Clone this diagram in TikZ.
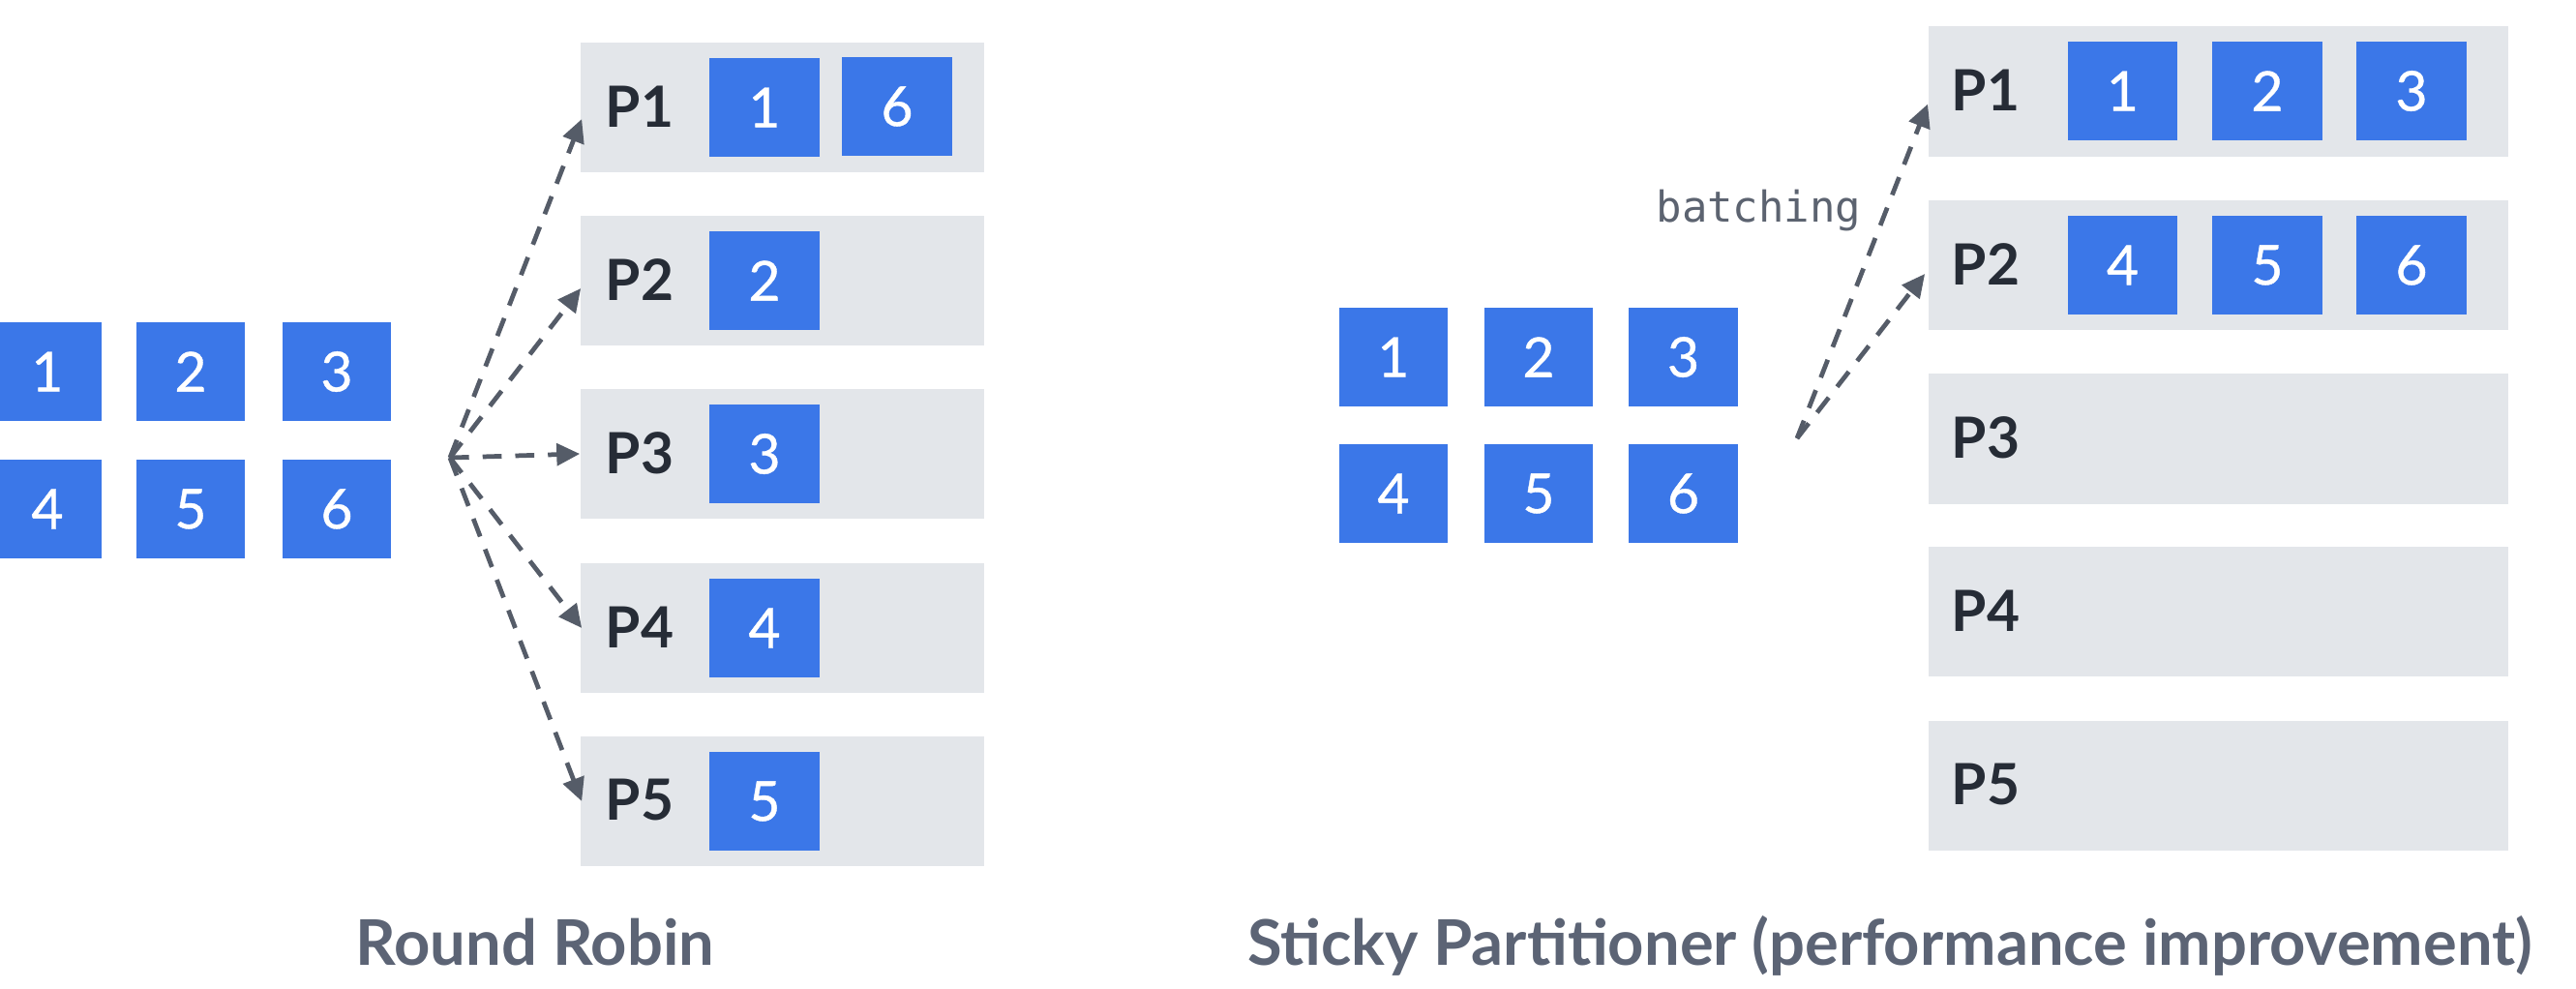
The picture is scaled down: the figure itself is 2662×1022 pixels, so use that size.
\documentclass[tikz,border=0pt]{standalone}
\usepackage{fontspec}
\setmainfont{Lato}
\newfontfamily\monofont{DejaVu Sans Mono}
\newfontfamily\digitfont[FakeBold=0.7]{Lato}
\usetikzlibrary{arrows.meta,calc}
\definecolor{msgblue}{HTML}{3B77E8}
\definecolor{partgray}{HTML}{E3E6EA}
\definecolor{arrowgray}{HTML}{555C68}
\definecolor{labeldark}{HTML}{262C36}
\definecolor{titlegray}{HTML}{5C6475}
\definecolor{monogray}{HTML}{5C6370}
\tikzset{
  msgbox/.style={fill=msgblue, text=white, inner sep=0pt, minimum width=1.12cm, minimum height=1.01cm,
    font=\fontsize{16.2pt}{18pt}\digitfont},
  partL/.style={fill=partgray, inner sep=0pt, minimum width=4.17cm, minimum height=1.34cm},
  partR/.style={fill=partgray, inner sep=0pt, minimum width=5.99cm, minimum height=1.34cm},
  plabel/.style={inner sep=0pt, anchor=west, text=labeldark, font=\fontsize{16.7pt}{18pt}\selectfont\bfseries},
  flow/.style={draw=arrowgray, line width=1.35pt, dash pattern=on 5.6pt off 4pt,
    -{Triangle[length=6.8pt,width=6.4pt]}},
  caption/.style={inner sep=0pt, anchor=base, text=titlegray, font=\fontsize{18.5pt}{20pt}\selectfont\bfseries}
}
\begin{document}
\begin{tikzpicture}[x=0.01cm,y=-0.01cm]
\useasboundingbox (0,0) rectangle (2662,1022);

% ---------- Round Robin (left) ----------
\node[msgbox] (a1) at (49,384) {1};
\node[msgbox] (a2) at (197,384) {2};
\node[msgbox] (a3) at (348,384) {3};
\node[msgbox] (a4) at (49,526) {4};
\node[msgbox] (a5) at (197,526) {5};
\node[msgbox] (a6) at (348,526) {6};

\node[partL] (lp1) at (808.5,111) {};
\node[partL] (lp2) at (808.5,290) {};
\node[partL] (lp3) at (808.5,469) {};
\node[partL] (lp4) at (808.5,649) {};
\node[partL] (lp5) at (808.5,828) {};

\node[plabel] (lp1t) at (625,110) {P1};
\node[plabel] (lp2t) at (625,289) {P2};
\node[plabel] (lp3t) at (625,468) {P3};
\node[plabel] (lp4t) at (625,648) {P4};
\node[plabel] (lp5t) at (625,827) {P5};

\node[msgbox, minimum width=1.13cm, minimum height=1.02cm] (l11) at (790,111) {1};
\node[msgbox, minimum width=1.13cm, minimum height=1.02cm] (l12) at (927,110) {6};
\node[msgbox, minimum width=1.13cm, minimum height=1.02cm] (l21) at (790,290) {2};
\node[msgbox, minimum width=1.13cm, minimum height=1.02cm] (l31) at (790,469) {3};
\node[msgbox, minimum width=1.13cm, minimum height=1.02cm] (l41) at (790,649) {4};
\node[msgbox, minimum width=1.13cm, minimum height=1.02cm] (l51) at (790,828) {5};

\coordinate (lo) at (465,473);
\draw[flow] (lo) -- ($(lp1.west)+(2,12)$);
\draw[flow] (lo) -- ($(lp2.west)+(1,8)$);
\draw[flow] (lo) -- (lp3.west);
\draw[flow] (lo) -- ($(lp4.west)+(2,0)$);
\draw[flow] (lo) -- ($(lp5.west)+(2,0)$);

\node[caption] (rr) at (553,998) {Round Robin};

% ---------- Sticky Partitioner (right) ----------
\node[msgbox] (b1) at (1440,369) {1};
\node[msgbox] (b2) at (1590,369) {2};
\node[msgbox] (b3) at (1739.5,369) {3};
\node[msgbox] (b4) at (1440,510) {4};
\node[msgbox] (b5) at (1590,510) {5};
\node[msgbox] (b6) at (1739.5,510) {6};

\node[partR] (rp1) at (2292.5,94.5) {};
\node[partR] (rp2) at (2292.5,274) {};
\node[partR] (rp3) at (2292.5,453.5) {};
\node[partR] (rp4) at (2292.5,632) {};
\node[partR] (rp5) at (2292.5,812) {};

\node[plabel] (rp1t) at (2016,93) {P1};
\node[plabel] (rp2t) at (2016,273) {P2};
\node[plabel] (rp3t) at (2016,452) {P3};
\node[plabel] (rp4t) at (2016,631) {P4};
\node[plabel] (rp5t) at (2016,811) {P5};

\node[msgbox, minimum width=1.13cm, minimum height=1.02cm] (r11) at (2193.5,94) {1};
\node[msgbox, minimum width=1.13cm, minimum height=1.02cm] (r12) at (2343,94) {2};
\node[msgbox, minimum width=1.13cm, minimum height=1.02cm] (r13) at (2492,94) {3};
\node[msgbox, minimum width=1.13cm, minimum height=1.02cm] (r21) at (2193.5,274) {4};
\node[msgbox, minimum width=1.13cm, minimum height=1.02cm] (r22) at (2343,274) {5};
\node[msgbox, minimum width=1.13cm, minimum height=1.02cm] (r23) at (2492,274) {6};

\coordinate (ro) at (1857,453);
\draw[flow] (ro) -- ($(rp1.west)+(0,13)$);
\draw[flow] (ro) -- ($(rp2.west)+(-3,9)$);

\node[inner sep=0pt, anchor=base east, text=monogray, font=\fontsize{12.5pt}{14pt}\monofont] (bt) at (1924,230) {batching};

\node[caption] (sp) at (1953,998) {Sticky Partitioner (performance improvement)};
\end{tikzpicture}
\end{document}
